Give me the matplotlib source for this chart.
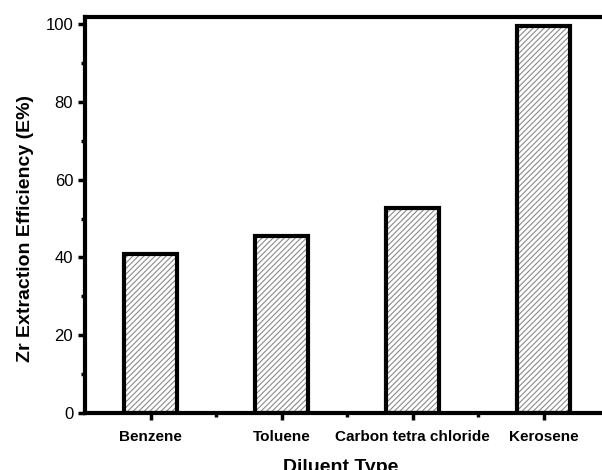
import matplotlib
matplotlib.use("Agg")
import matplotlib.pyplot as plt
from matplotlib.ticker import MultipleLocator

categories = ["Benzene", "Toluene", "Carbon tetra chloride", "Kerosene"]
values = [40.8, 45.5, 52.8, 99.4]

plt.rcParams['font.family'] = ['Liberation Sans', 'DejaVu Sans']
plt.rcParams['hatch.linewidth'] = 0.8

fig = plt.figure(figsize=(6.02, 4.70), dpi=100)
ax = fig.add_axes([85/602, 57/470, 524/602, 396/470])

x = list(range(len(categories)))
ax.bar(x, values, width=0.4, color='white', edgecolor='#8a8a8a', hatch='//////', linewidth=0, zorder=2)
ax.bar(x, values, width=0.4, fill=False, edgecolor='black', linewidth=3, zorder=3)

ax.set_xlim(-0.5, 3.5)
ax.set_ylim(0, 101.8)
ax.set_xticks(x)
ax.set_xticklabels(categories, fontsize=11, fontweight='bold')
ax.set_xticks([0.5, 1.5, 2.5], minor=True)
ax.yaxis.set_major_locator(MultipleLocator(20))
ax.yaxis.set_minor_locator(MultipleLocator(10))
ax.tick_params(axis='both', which='major', direction='out', length=5, width=2.5, labelsize=12)
ax.tick_params(axis='x', which='major', labelsize=11, pad=7)
ax.tick_params(axis='both', which='minor', direction='out', length=3, width=2.5)
for s in ax.spines.values():
    s.set_linewidth(3)

ax.set_ylabel("Zr Extraction Efficiency (E%)", fontsize=14, fontweight='bold')
ax.yaxis.set_label_coords(-0.098, 0.465)
ax.set_xlabel("Diluent Type", fontsize=14, fontweight='bold')
ax.xaxis.set_label_coords(0.488, -0.115)

fig.savefig("out.png", dpi=100)
